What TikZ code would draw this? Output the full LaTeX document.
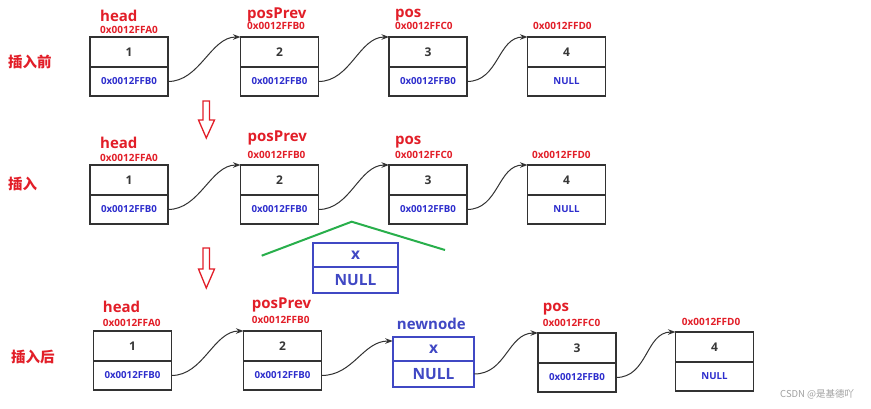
\documentclass[tikz,border=0pt]{standalone}
\usepackage{fontspec}
\setmainfont{Open Sans}
\newfontfamily\cjk{Noto Sans CJK SC}
\usetikzlibrary{arrows.meta}
\definecolor{lred}{RGB}{226,30,40}
\definecolor{lblue}{RGB}{45,45,205}
\definecolor{bblue}{RGB}{64,72,196}
\definecolor{tgray}{RGB}{55,55,55}
\definecolor{bgray}{RGB}{50,50,50}
\definecolor{lgreen}{RGB}{40,175,75}
\tikzset{
  topc/.style={draw=bgray, line width=1.1pt, fill=white, minimum width=78pt, minimum height=30pt,
    inner sep=0pt, outer sep=0pt, text=tgray, font=\fontsize{12}{12}\selectfont\bfseries},
  botc/.style={draw=bgray, line width=1.1pt, fill=white, minimum width=78pt, minimum height=29pt,
    inner sep=0pt, outer sep=0pt, anchor=north, text=lblue, font=\fontsize{9.7}{9.7}\selectfont\bfseries},
  ntop/.style={draw=bblue, line width=2pt, fill=white, inner sep=0pt, outer sep=0pt,
    text=bblue, font=\fontsize{15.5}{15.5}\selectfont\bfseries},
  vname/.style={anchor=base west, inner sep=0pt, text=lred, font=\fontsize{15}{15}\selectfont\bfseries},
  vaddr/.style={anchor=base west, inner sep=0pt, text=lred, font=\fontsize{10}{10}\selectfont\bfseries},
  stage/.style={anchor=west, inner sep=0pt, text=lred, font=\fontsize{14.5}{14.5}\selectfont\cjk\bfseries},
  link/.style={draw=bgray, line width=1pt, -{Stealth[length=7.5pt,width=5.5pt]}},
  downarr/.style={draw=lred, line width=1.3pt, fill=white, line join=miter},
}
\begin{document}
\begin{tikzpicture}[x=1pt,y=-1pt]
\useasboundingbox (0,0) rectangle (871,408);
\fill[white] (0,0) rectangle (871,408);

% stage labels
\node[stage] (s1) at (8,62) {插入前};
\node[stage] (s2) at (8,184) {插入};
\node[stage] (s3) at (11,357) {插入后};

% ---------- row 1 ----------
\node[topc] (r1n1a) at (129,52) {1};
\node[botc] (r1n1b) at (r1n1a.south) {0x0012FFB0};
\node[topc] (r1n2a) at (279.5,52) {2};
\node[botc] (r1n2b) at (r1n2a.south) {0x0012FFB0};
\node[topc] (r1n3a) at (428,52) {3};
\node[botc] (r1n3b) at (r1n3a.south) {0x0012FFB0};
\node[topc] (r1n4a) at (566.5,52) {4};
\node[botc] (r1n4b) at (r1n4a.south) {NULL};

\node[vname] (r1h) at (100,21) {head};
\node[vaddr] (r1ha) at (100,33) {0x0012FFA0};
\node[vname] (r1p) at (247,18.5) {posPrev};
\node[vaddr] (r1pa) at (247,29.5) {0x0012FFB0};
\node[vname] (r1q) at (395,17) {pos};
\node[vaddr] (r1qa) at (395,29.5) {0x0012FFC0};
\node[vaddr] (r1ra) at (533,29.5) {0x0012FFD0};

\draw[link] (r1n1b.east) .. controls +(32,0) and +(-30,0) .. (r1n2a.north west);
\draw[link] (r1n2b.east) .. controls +(32,0) and +(-30,0) .. (r1n3a.north west);
\draw[link] (r1n3b.east) .. controls +(32,0) and +(-30,0) .. (r1n4a.north west);

% down arrows
\draw[downarr] (203,101) -- (209.5,101) -- (209.5,120) -- (214.5,120) -- (206.3,138)
  -- (198.5,120) -- (203,120) -- cycle;
\draw[downarr] (203,248) -- (209.5,248) -- (209.5,269) -- (214.5,269) -- (206.3,288)
  -- (198.5,269) -- (203,269) -- cycle;

% ---------- row 2 ----------
\node[topc] (r2n1a) at (129,180) {1};
\node[botc] (r2n1b) at (r2n1a.south) {0x0012FFB0};
\node[topc] (r2n2a) at (279.5,180) {2};
\node[botc] (r2n2b) at (r2n2a.south) {0x0012FFB0};
\node[topc] (r2n3a) at (428,180) {3};
\node[botc] (r2n3b) at (r2n3a.south) {0x0012FFB0};
\node[topc] (r2n4a) at (566.5,180) {4};
\node[botc] (r2n4b) at (r2n4a.south) {NULL};

\node[vname] (r2h) at (100,148) {head};
\node[vaddr] (r2ha) at (100,161) {0x0012FFA0};
\node[vname] (r2p) at (247.5,141.7) {posPrev};
\node[vaddr] (r2pa) at (247.5,158.3) {0x0012FFB0};
\node[vname] (r2q) at (395,144) {pos};
\node[vaddr] (r2qa) at (395,158.3) {0x0012FFC0};
\node[vaddr] (r2ra) at (532,158.3) {0x0012FFD0};

\draw[link] (r2n1b.east) .. controls +(32,0) and +(-30,0) .. (r2n2a.north west);
\draw[link] (r2n2b.east) .. controls +(32,0) and +(-30,0) .. (r2n3a.north west);
\draw[link] (r2n3b.east) .. controls +(32,0) and +(-30,0) .. (r2n4a.north west);

% roof and new node
\coordinate (gl) at (261.7,255.7);
\coordinate (gp) at (351.7,221.7);
\coordinate (gr) at (445,250);
\draw[lgreen, line width=2pt] (gl) -- (gp) -- (gr);

\node[ntop, minimum width=84.5pt, minimum height=24pt] (xa) at (355.5,255) {x};
\node[ntop, minimum width=84.5pt, minimum height=26pt, anchor=north] (xb) at (xa.south) {NULL};

% ---------- row 3 ----------
\node[topc] (r3n1a) at (132.5,346) {1};
\node[botc] (r3n1b) at (r3n1a.south) {0x0012FFB0};
\node[topc] (r3n2a) at (282.5,346) {2};
\node[botc] (r3n2b) at (r3n2a.south) {0x0012FFB0};
\node[ntop, minimum width=81.5pt, minimum height=24pt] (nna) at (433.5,349) {x};
\node[ntop, minimum width=81.5pt, minimum height=26pt, anchor=north] (nnb) at (nna.south) {NULL};
\node[topc] (r3n3a) at (577,348) {3};
\node[botc] (r3n3b) at (r3n3a.south) {0x0012FFB0};
\node[topc] (r3n4a) at (714.5,347) {4};
\node[botc] (r3n4b) at (r3n4a.south) {NULL};

\node[vname] (r3h) at (102.7,312.7) {head};
\node[vaddr] (r3ha) at (102.7,326) {0x0012FFA0};
\node[vname] (r3p) at (251.7,308.3) {posPrev};
\node[vaddr] (r3pa) at (251.7,323.3) {0x0012FFB0};
\node[vname, text=bblue] (r3nn) at (396.7,329.3) {newnode};
\node[vname] (r3q) at (542.7,311.7) {pos};
\node[vaddr] (r3qa) at (542.7,326.7) {0x0012FFC0};
\node[vaddr] (r3ra) at (681.7,325) {0x0012FFD0};

\draw[link] (r3n1b.east) .. controls +(32,0) and +(-30,0) .. (r3n2a.north west);
\draw[link] (r3n2b.east) .. controls +(32,0) and +(-30,0) .. ([yshift=-4pt]nna.north west);
\draw[link] (nnb.east) .. controls +(32,0) and +(-30,0) .. (r3n3a.north west);
\draw[link] (r3n3b.east) .. controls +(32,0) and +(-30,0) .. (r3n4a.north west);

% watermark
\node[anchor=west, inner sep=0pt, text={rgb,255:red,160;green,160;blue,160},
  font=\fontsize{9.5}{9.5}\selectfont\cjk] (wm) at (780,394) {CSDN @是基德吖};
\end{tikzpicture}
\end{document}
